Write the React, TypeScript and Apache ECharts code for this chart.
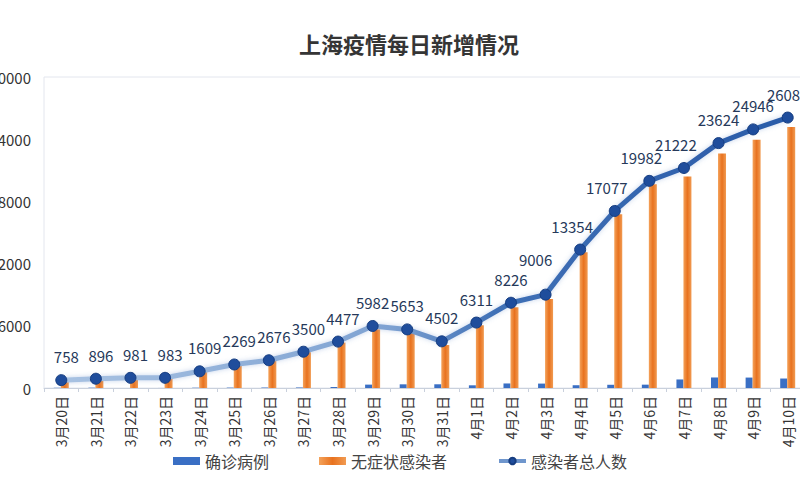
import React, { useEffect, useRef } from "react";
import * as echarts from "echarts";

const categories = [
  "3月20日", "3月21日", "3月22日", "3月23日", "3月24日", "3月25日", "3月26日", "3月27日",
  "3月28日", "3月29日", "3月30日", "3月31日", "4月1日", "4月2日", "4月3日", "4月4日",
  "4月5日", "4月6日", "4月7日", "4月8日", "4月9日", "4月10日",
];
const confirmed = [24, 31, 4, 4, 29, 38, 45, 50, 96, 326, 355, 358, 260, 438, 425, 268, 311, 322, 824, 1015, 1006, 914];
const asymptomatic = [734, 865, 977, 979, 1580, 2231, 2631, 3450, 4381, 5656, 5298, 4144, 6051, 7788, 8581, 13086, 16766, 19660, 20398, 22609, 23937, 25173];
const total = [758, 896, 981, 983, 1609, 2269, 2676, 3500, 4477, 5982, 5653, 4502, 6311, 8226, 9006, 13354, 17077, 19982, 21222, 23624, 24946, 26087];
const yTicks = [0, 6000, 12000, 18000, 24000, 30000];

export default function App() {
  const ref = useRef<HTMLDivElement>(null);
  useEffect(() => {
    if (!ref.current) return;
    const chart = echarts.init(ref.current, null, { renderer: "svg" });
    const font = "'Noto Sans CJK SC', 'Noto Sans', sans-serif";
    const lineData = total.map((v, i) => ({
      value: v,
      label: {
        offset:
          i < 9 ? [5, 0] : i === 14 ? [-10, -12] : i >= 15 && i < 19 ? [-8, 0] : [0, 0],
      },
    }));
    chart.setOption({
      animation: false,
      backgroundColor: "#ffffff",
      textStyle: { fontFamily: font },
      title: {
        text: "上海疫情每日新增情况",
        left: 404,
        textAlign: "center",
        top: 27,
        textStyle: { fontSize: 22, fontWeight: "bold", color: "#353535", fontFamily: font },
      },
      legend: {
        bottom: 26,
        left: "center",
        itemWidth: 27,
        itemHeight: 8,
        itemGap: 50,
        textStyle: { fontSize: 16, color: "#444", fontFamily: font },
        data: [
          { name: "确诊病例", icon: "rect" },
          { name: "无症状感染者", icon: "rect" },
          {
            name: "感染者总人数",
            lineStyle: { color: "#6f96cd", width: 4, shadowBlur: 0 },
            itemStyle: { color: "#1f4d9c" },
          },
        ],
      },
      grid: {
        left: 44,
        right: -5,
        top: 77,
        bottom: 112,
        containLabel: false,
        outerBoundsMode: "none",
        show: true,
        borderColor: "#e3e6ee",
        borderWidth: 1,
      },
      xAxis: {
        type: "category",
        data: categories,
        axisLine: { lineStyle: { color: "#c9d0dc" } },
        axisTick: { show: true, length: 4, lineStyle: { color: "#c9d0dc" } },
        axisLabel: { rotate: 90, fontSize: 14, color: "#333", margin: 8, interval: 0 },
      },
      yAxis: {
        type: "value",
        min: yTicks[0],
        max: yTicks[yTicks.length - 1],
        interval: 6000,
        splitLine: { show: false },
        axisLine: { show: false },
        axisTick: { show: false },
        axisLabel: {
          fontSize: 15,
          color: "#333",
          margin: 13,
          formatter: (v: number) => String(v),
        },
      },
      series: [
        {
          name: "确诊病例",
          type: "bar",
          data: confirmed,
          barWidth: 7,
          barGap: "0%",
          itemStyle: { color: "#3a6fc4" },
        },
        {
          name: "无症状感染者",
          type: "bar",
          data: asymptomatic,
          barWidth: 8,
          itemStyle: {
            color: new echarts.graphic.LinearGradient(0, 0, 1, 0, [
              { offset: 0, color: "#f4a25a" },
              { offset: 0.5, color: "#e8721f" },
              { offset: 1, color: "#f19b52" },
            ]),
          },
        },
        {
          name: "感染者总人数",
          type: "line",
          data: lineData,
          z: 5,
          symbol: "circle",
          symbolSize: 11,
          lineStyle: {
            width: 5,
            color: new echarts.graphic.LinearGradient(0, 0, 1, 0, [
              { offset: 0, color: "#a8c2e2" },
              { offset: 0.45, color: "#7ea2d2" },
              { offset: 0.6, color: "#3f70b6" },
              { offset: 1, color: "#2a5ba8" },
            ]),
            shadowColor: "rgba(90,130,200,0.35)",
            shadowBlur: 5,
          },
          itemStyle: { color: "#1f4d9c", borderColor: "#163d80", borderWidth: 1 },
          label: {
            show: true,
            position: "top",
            distance: 10,
            fontSize: 15,
            color: "#26395a",
          },
        },
      ],
    });
    return () => chart.dispose();
  }, []);
  return (
    <div
      ref={ref}
      style={{ position: "fixed", left: 0, top: 0, width: 800, height: 500 }}
    />
  );
}
